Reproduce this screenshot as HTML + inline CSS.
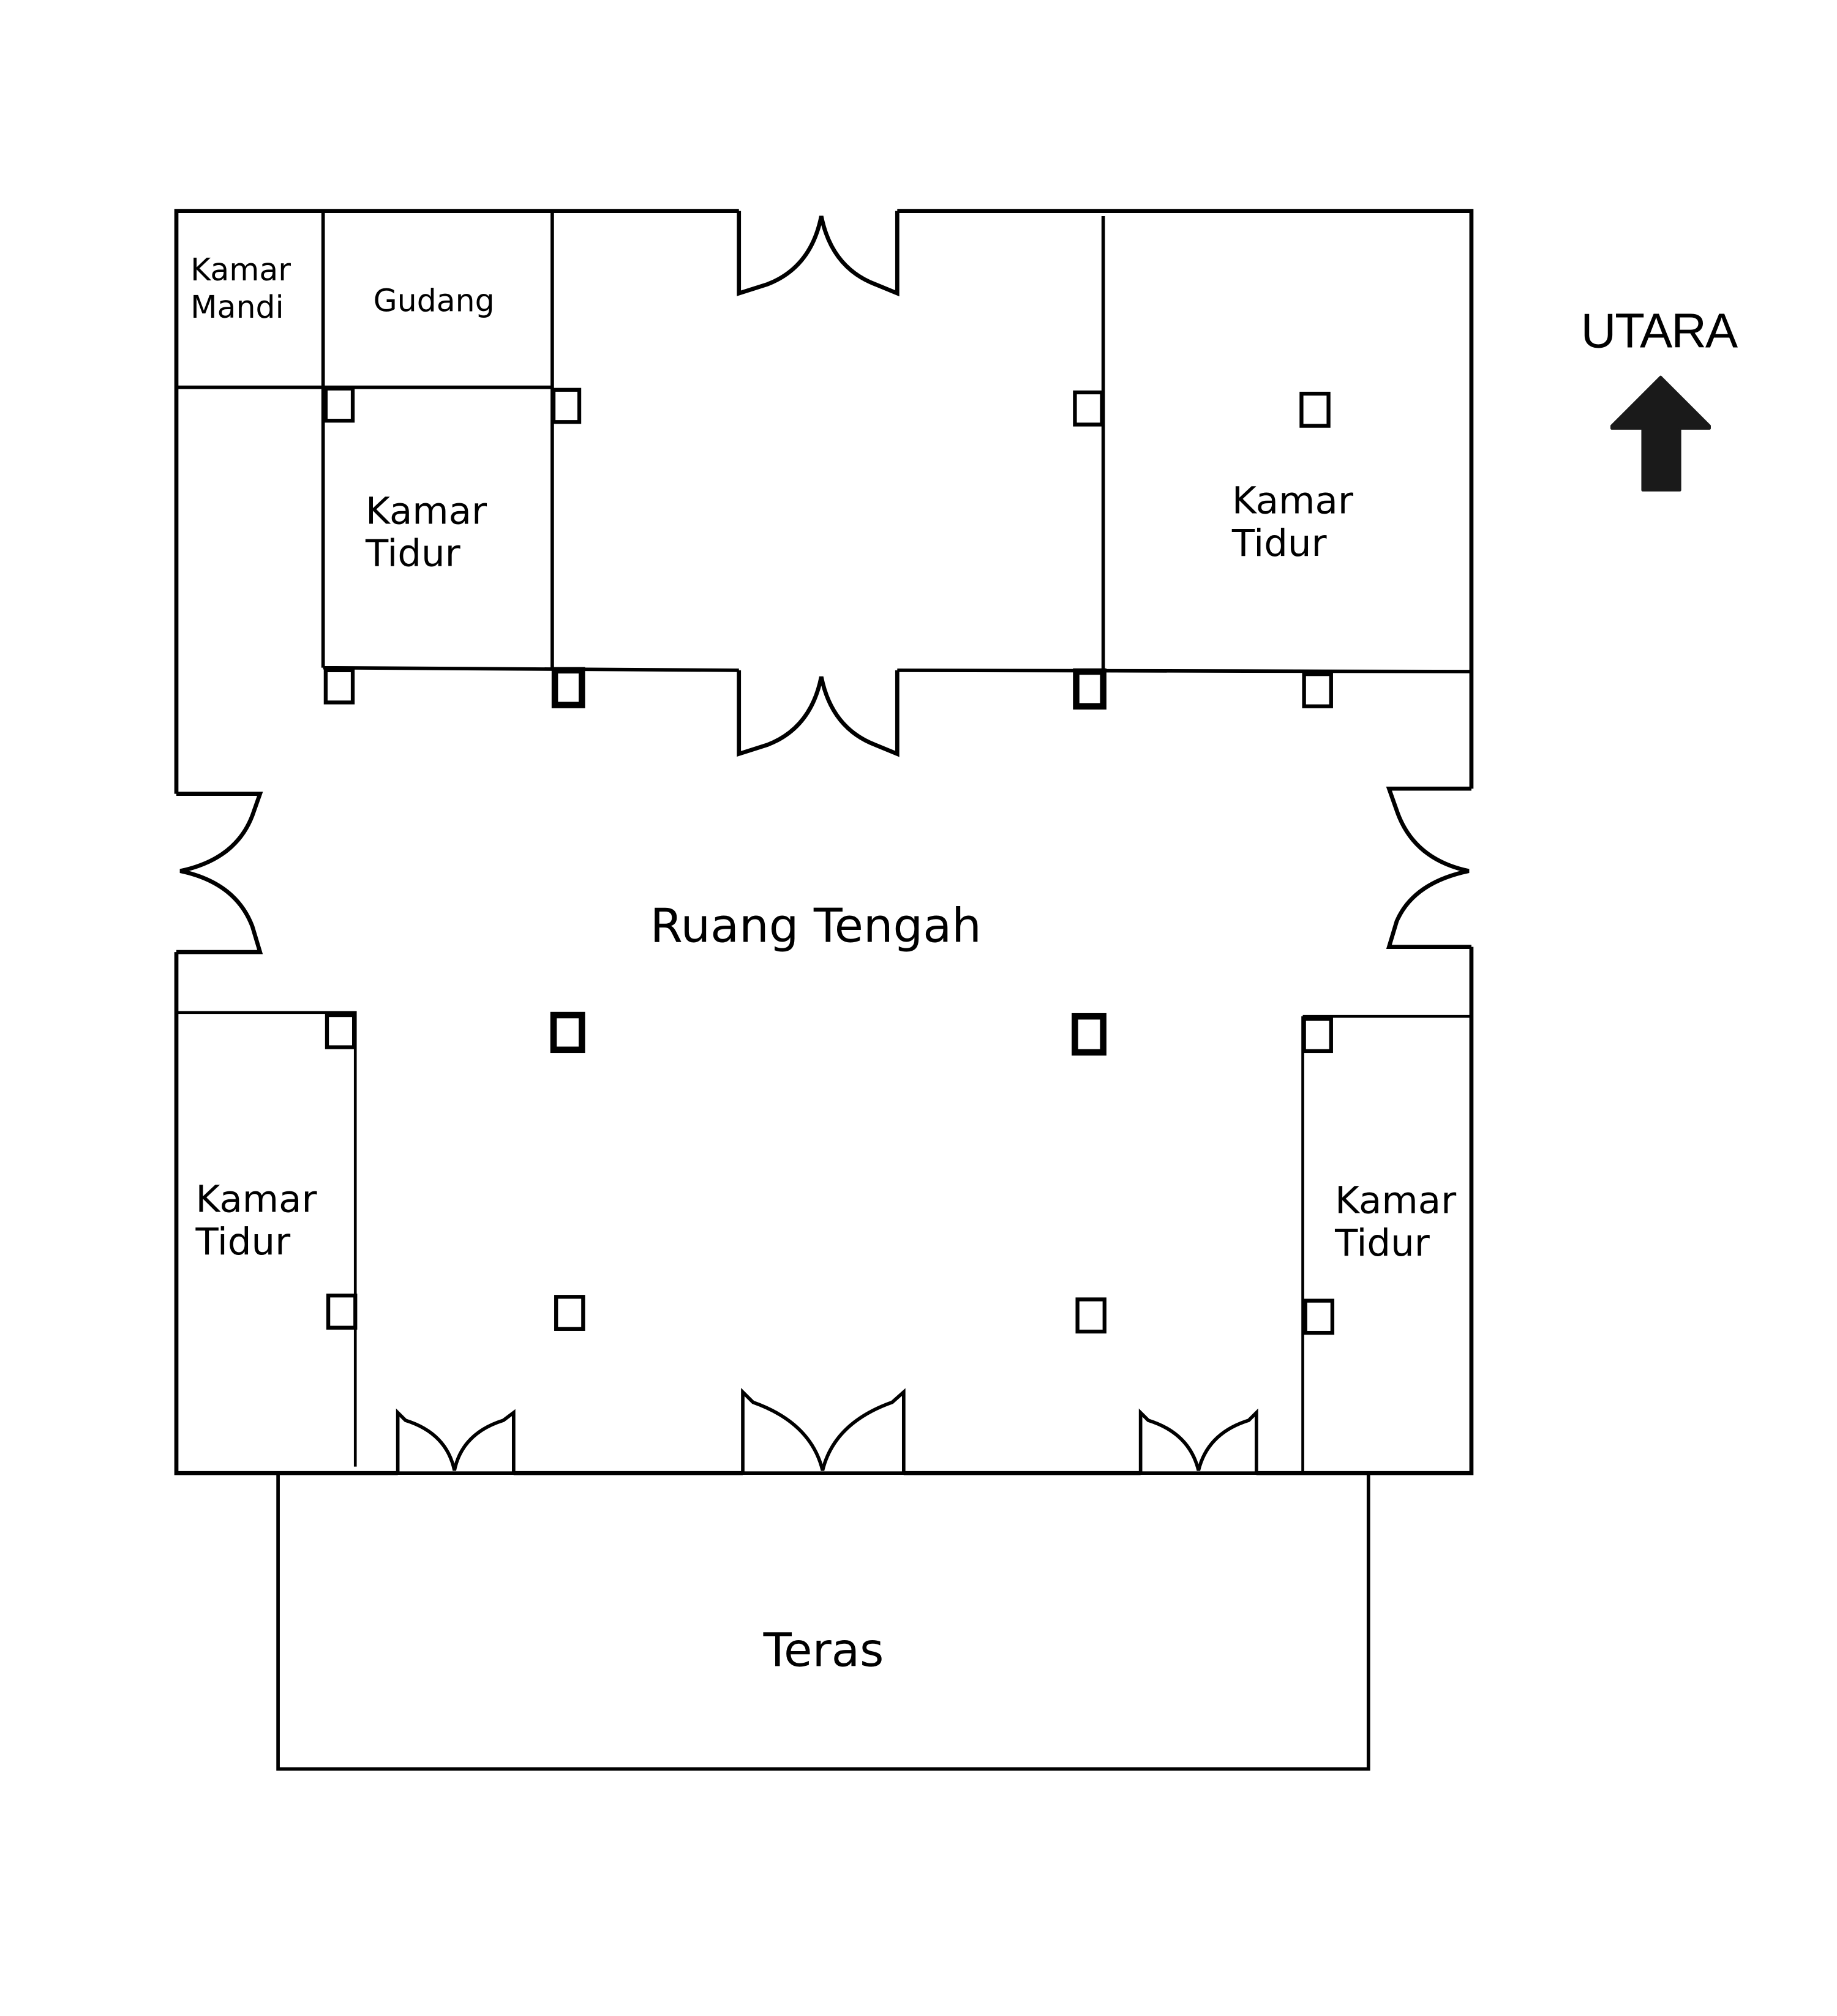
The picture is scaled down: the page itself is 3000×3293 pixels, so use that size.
<!DOCTYPE html>
<html><head><meta charset="utf-8"><style>html,body{margin:0;padding:0;background:#fff}svg{display:block}</style></head>
<body>
<svg width="3000" height="3293" viewBox="0 0 1427 1567" preserveAspectRatio="none" xmlns="http://www.w3.org/2000/svg">
<rect width="1427" height="1567" fill="#fff"/>
<g fill="none" stroke="#000" stroke-width="3.2" stroke-linejoin="miter">
<path d="M574 164 H137 V617 M137 740 V1145 H309 M399 1145 H577 M702 1145 H886 M976 1145 H1143 V736 M1143 613 V164 H697"/>
<path d="M251 164 V519 M429 164 V519 M137 301 H429 M251 519 L574 521 M697 521 L1143 522 M857 168 V522" stroke-width="2.7"/>
<path d="M137 787 H276 V1140 M1012 790 H1143 M1012 790 V1145" stroke-width="2.2"/>
<rect x="216" y="1145" width="847" height="230" stroke-width="2.7"/>
<path d="M574 164 V228 L596 221 Q630 208 638 168 Q646 208 680 221 L697 228 V164"/>
<path d="M574 521 V586 L596 579 Q630 566 638 526 Q646 566 680 579 L697 586 V521"/>
<path d="M137 617 H202 L196 634 Q183 668 140 677 Q183 686 196 720 L202 740 H137"/>
<path d="M1143 613 H1079 L1085 630 Q1098 668 1141 677 Q1098 686 1085 716 L1079 736 H1143"/>
<path d="M309 1145 V1098 L315 1104 Q347 1114 353 1143 Q359 1114 391 1104 L399 1098 V1145" stroke-width="2.7"/>
<path d="M577 1145 V1082 L585 1090 Q630 1106 639 1143 Q648 1106 693 1090 L702 1082 V1145" stroke-width="2.7"/>
<path d="M886 1145 V1098 L892 1104 Q924 1114 931 1143 Q938 1114 970 1104 L976 1098 V1145" stroke-width="2.7"/>
<g stroke-width="3">
<rect x="253" y="302" width="21" height="25"/><rect x="430" y="303" width="20" height="25"/>
<rect x="835" y="305" width="21" height="25"/><rect x="1011" y="306" width="21" height="25"/>
<rect x="253" y="521" width="21" height="25"/><rect x="1013" y="524" width="21" height="25"/>
<rect x="254" y="789" width="21" height="25"/><rect x="1013" y="792" width="21" height="25"/>
<rect x="255" y="1007" width="21" height="25"/><rect x="432" y="1008" width="21" height="25"/>
<rect x="837" y="1010" width="21" height="25"/><rect x="1014" y="1011" width="21" height="25"/>
</g>
<g stroke-width="5">
<rect x="431" y="521" width="21" height="27"/><rect x="836" y="522" width="21" height="27"/>
<rect x="430" y="789" width="22" height="27"/><rect x="835" y="790" width="22" height="28"/>
</g>
</g>
<g font-family="'DejaVu Sans', sans-serif" fill="#000">
<text x="148" y="218" font-size="24">Kamar</text><text x="148" y="247" font-size="24">Mandi</text>
<text x="290" y="242" font-size="24">Gudang</text>
<text x="284" y="407" font-size="29">Kamar</text><text x="284" y="440" font-size="29">Tidur</text>
<text x="957" y="399" font-size="29">Kamar</text><text x="957" y="432" font-size="29">Tidur</text>
<text x="152" y="942" font-size="29">Kamar</text><text x="152" y="975" font-size="29">Tidur</text>
<text x="1037" y="943" font-size="29">Kamar</text><text x="1037" y="976" font-size="29">Tidur</text>
<text x="505" y="732" font-size="36.5">Ruang Tengah</text>
<text x="593" y="1295" font-size="36">Teras</text>
</g>
<text x="1228" y="270" font-family="'Liberation Sans', sans-serif" font-size="38" textLength="122">UTARA</text>
<path d="M1290 293 L1328 331 V333 H1305 V381 H1276 V333 H1252 V331 Z" fill="#1a1a1a" stroke="#1a1a1a" stroke-width="2" stroke-linejoin="round"/>
</svg>
</body></html>
